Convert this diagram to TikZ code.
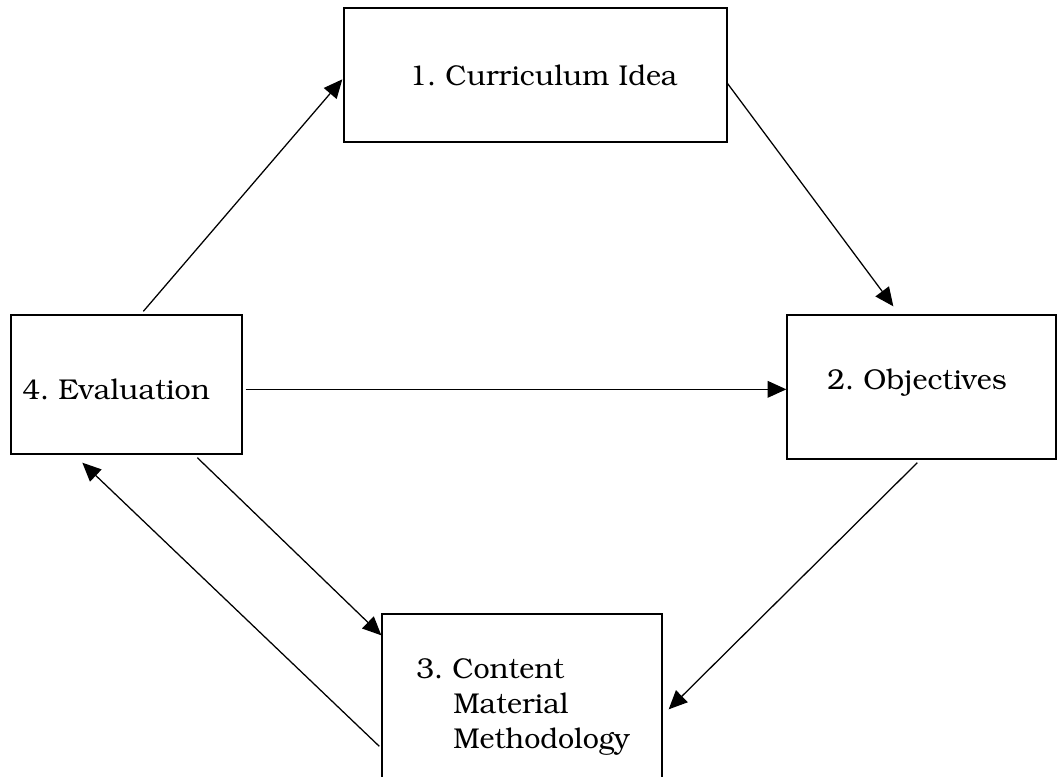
\documentclass[tikz,border=0pt]{standalone}
\usepackage[T1]{fontenc}
\usepackage{bookman}
\usetikzlibrary{arrows.meta}
\frenchspacing

\tikzset{
  stage/.style={draw=black, line width=1pt, rectangle, inner sep=0pt},
  label/.style={anchor=base west, inner sep=0pt,
    font=\fontsize{21.5}{26.25}\selectfont},
  flow/.style={draw=black, line width=0.95pt,
    -{Triangle[length=14pt,width=12.5pt]}}
}

\begin{document}
\begin{tikzpicture}[x=0.75pt, y=-0.75pt]
  \useasboundingbox (0,0) rectangle (1064,776);
  \clip (0,0) rectangle (1064,776);

  % the four stages of the cycle
  \node[stage, minimum width=383*0.75pt, minimum height=134*0.75pt] (idea) at (535.5,75) {};
  \node[stage, minimum width=269*0.75pt, minimum height=144*0.75pt] (obj)  at (921.5,387) {};
  \node[stage, minimum width=280*0.75pt, minimum height=186*0.75pt] (cont) at (522,707) {};
  \node[stage, minimum width=231*0.75pt, minimum height=139*0.75pt] (eval) at (126.5,384.5) {};

  % stage texts
  \node[label] (ideatxt) at (409,85)  {1. Curriculum Idea};
  \node[label] (objtxt)  at (827,389) {2. Objectives};
  \node[label] (evaltxt) at (22,399)  {4. Evaluation};
  \node[label] (conttxt) at (416,678) {3. Content};
  \node[label] (mattxt)  at (453,713) {Material};
  \node[label] (methtxt) at (453,748) {Methodology};

  % connectors between the stages
  \draw[flow] ([shift={(133,-3)}]eval.north west) -- ([shift={(-1,72)}]idea.north west);
  \draw[flow] ([shift={(-1,75)}]idea.north east) -- ([shift={(107,-8)}]obj.north west);
  \draw[flow] ([shift={(3,75)}]eval.north east) -- ([shift={(0,75)}]obj.north west);
  \draw[flow] ([shift={(131,3)}]obj.south west) -- ([shift={(6,96)}]cont.north east);
  \draw[flow] ([shift={(187,3)}]eval.south west) -- ([shift={(0,22)}]cont.north west);
  \draw[flow] ([shift={(-2,133)}]cont.north west) -- ([shift={(72,8)}]eval.south west);
\end{tikzpicture}
\end{document}
